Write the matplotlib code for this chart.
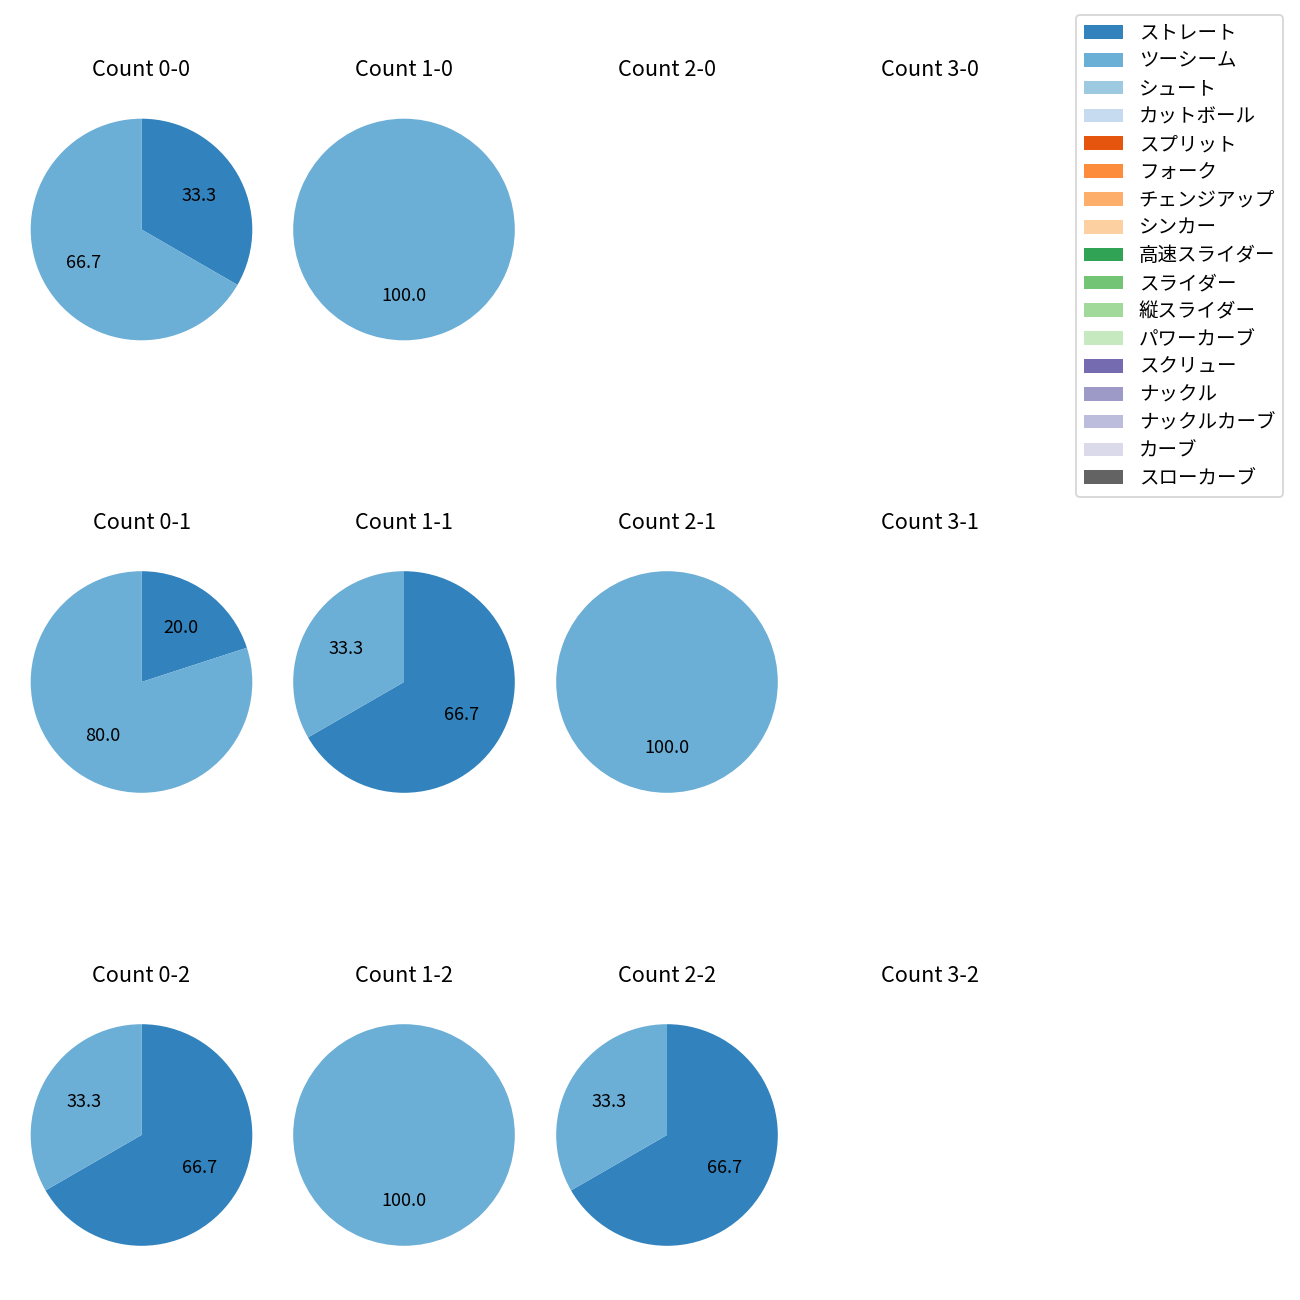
import numpy as np
import matplotlib
matplotlib.use('Agg')
import matplotlib.pyplot as plt
from matplotlib.patches import Patch

plt.rcParams['font.family'] = ['Noto Sans CJK JP', 'DejaVu Sans']

pitch_names = ['ストレート', 'ツーシーム', 'シュート', 'カットボール', 'スプリット', 'フォーク',
               'チェンジアップ', 'シンカー', '高速スライダー', 'スライダー', '縦スライダー',
               'パワーカーブ', 'スクリュー', 'ナックル', 'ナックルカーブ', 'カーブ', 'スローカーブ']
pitch_colors = [plt.cm.tab20c(i) for i in range(len(pitch_names))]

balls = [0, 1, 2, 3]
strikes = [0, 1, 2]

# pitch counts per ball-strike count: ストレート / ツーシーム
straight = {(0, 0): 1, (1, 0): 0, (2, 0): 0, (3, 0): 0,
            (0, 1): 1, (1, 1): 2, (2, 1): 0, (3, 1): 0,
            (0, 2): 2, (1, 2): 0, (2, 2): 2, (3, 2): 0}
twoseam = {(0, 0): 2, (1, 0): 1, (2, 0): 0, (3, 0): 0,
           (0, 1): 4, (1, 1): 1, (2, 1): 1, (3, 1): 0,
           (0, 2): 1, (1, 2): 1, (2, 2): 1, (3, 2): 0}

W, H = 1300, 1300
fig = plt.figure(figsize=(10, 10), dpi=130)

# layout in pixels
col_cx = [141.5, 404, 667, 930]
row_cy = [229.5, 682, 1135]
r = 110.8
side = 2.5 * r

for s in strikes:
    for b in balls:
        cx = col_cx[b]
        cy = H - row_cy[s]
        ax = fig.add_axes([(cx - side / 2) / W, (cy - side / 2) / H, side / W, side / H])
        vals = [straight[(b, s)], twoseam[(b, s)]]
        cols = pitch_colors[:2]
        v = [x for x in vals if x > 0]
        c = [cc for x, cc in zip(vals, cols) if x > 0]
        if len(v) > 0:
            ax.pie(v, colors=c, autopct='%.1f', startangle=90, counterclock=False)
        else:
            ax.axis('off')
        ax.set_title('Count %d-%d' % (b, s), pad=8.2)

handles = [Patch(facecolor=c, label=n) for n, c in zip(pitch_names, pitch_colors)]
fig.legend(handles=handles, loc='upper right', bbox_to_anchor=(1283 / W, 1 - 15 / H),
           borderaxespad=0, fontsize=10.8, labelspacing=0.35)

fig.savefig('out.png', dpi=130)
